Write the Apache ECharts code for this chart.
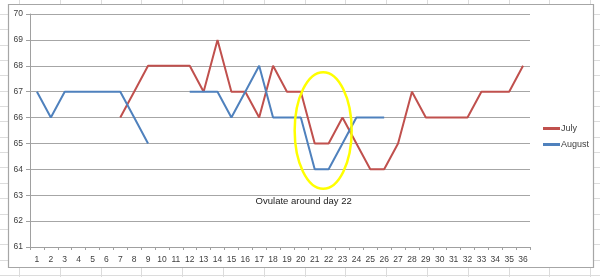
<!DOCTYPE html>
<html><head><meta charset="utf-8">
<script src="https://cdn.jsdelivr.net/npm/echarts@6/dist/echarts.min.js"></script>
<style>html,body{margin:0;padding:0;background:#fff}#c{width:600px;height:277px}</style>
</head><body><div id="c"></div>
<script>
const days = ['1','2','3','4','5','6','7','8','9','10','11','12','13','14','15','16','17','18','19','20','21','22','23','24','25','26','27','28','29','30','31','32','33','34','35','36'];
const july = [null,null,null,null,null,null,66,67,68,68,68,68,67,69,67,67,66,68,67,67,65,65,66,65,64,64,65,67,66,66,66,66,67,67,67,68];
const august = [67,66,67,67,67,67,67,66,65,null,null,67,67,67,66,67,68,66,66,66,64,64,65,66,66,66,null,null,null,null,null,null,null,null,null,null];
const yTicks = [61,62,63,64,65,66,67,68,69,70];
const note = 'Ovulate around day 22';

const chart = echarts.init(document.getElementById('c'));
const bg = [];
for (let x = 19; x < 600; x += 40.8) bg.push({type:'line', z:-10, shape:{x1:Math.round(x)+0.5,y1:0,x2:Math.round(x)+0.5,y2:277}, style:{stroke:'#dcdcdc',lineWidth:1}});
for (let y = 14; y < 277; y += 15.35) bg.push({type:'line', z:-10, shape:{x1:0,y1:Math.round(y)+0.5,x2:600,y2:Math.round(y)+0.5}, style:{stroke:'#dcdcdc',lineWidth:1}});
bg.push({type:'rect', z:-5, shape:{x:8.5,y:4.5,width:585,height:263}, style:{fill:'#fff',stroke:'#a6a6a6',lineWidth:1.2}});

chart.setOption({
  animation:false,
  grid:{left:30,right:70,top:14,bottom:30},
  legend:{orient:'vertical',left:543,top:124,padding:0,itemWidth:17,itemHeight:3,icon:'rect',itemGap:7,
    textStyle:{fontSize:9,color:'#404040',fontFamily:'Liberation Sans',padding:[0,0,0,-4]},
    data:['July','August']},
  xAxis:{type:'category',data:days,boundaryGap:true,
    axisLine:{lineStyle:{color:'#a0a0a0',width:1}},
    axisTick:{show:true,length:3,interval:0,lineStyle:{color:'#a0a0a0'}},
    axisLabel:{interval:0,fontSize:8.5,color:'#404040',margin:8,fontFamily:'Liberation Sans'}},
  yAxis:{type:'value',min:61,max:70,interval:1,
    axisLine:{show:true,lineStyle:{color:'#a0a0a0',width:1}},
    axisTick:{show:true,length:4,lineStyle:{color:'#a0a0a0'}},
    splitLine:{lineStyle:{color:'#a6a6a6',width:1}},
    axisLabel:{fontSize:8.5,color:'#404040',margin:7,fontFamily:'Liberation Sans',
      formatter:v=>yTicks.includes(v)?String(v):''}},
  series:[
    {name:'July',type:'line',data:july,showSymbol:false,symbol:'none',connectNulls:false,
      lineStyle:{color:'#C0504D',width:2},itemStyle:{color:'#C0504D'}},
    {name:'August',type:'line',data:august,showSymbol:false,symbol:'none',connectNulls:false,
      lineStyle:{color:'#4F81BD',width:2},itemStyle:{color:'#4F81BD'}}
  ],
  graphic:bg
});

const c1 = chart.convertToPixel({xAxisIndex:0,yAxisIndex:0},[20,67.75]);
const c2 = chart.convertToPixel({xAxisIndex:0,yAxisIndex:0},[21,63.25]);
const cx = (c1[0]+c2[0])/2 + 1.5, cy = (c1[1]+c2[1])/2;
const rx = 28.5, ry = (c2[1]-c1[1])/2;
const tp = chart.convertToPixel({xAxisIndex:0,yAxisIndex:0},[20,62.75]);
chart.setOption({graphic: bg.concat([
  {type:'ellipse', z:100, shape:{cx:cx,cy:cy,rx:rx,ry:ry}, style:{fill:'none',stroke:'#ffff00',lineWidth:2.5}},
  {type:'text', z:100, x:(c1[0]+c2[0])/2 - 18, y:tp[1], style:{text:note,fontSize:9.5,fill:'#222',fontFamily:'Liberation Sans',align:'center',verticalAlign:'middle'}}
])});
</script></body></html>
